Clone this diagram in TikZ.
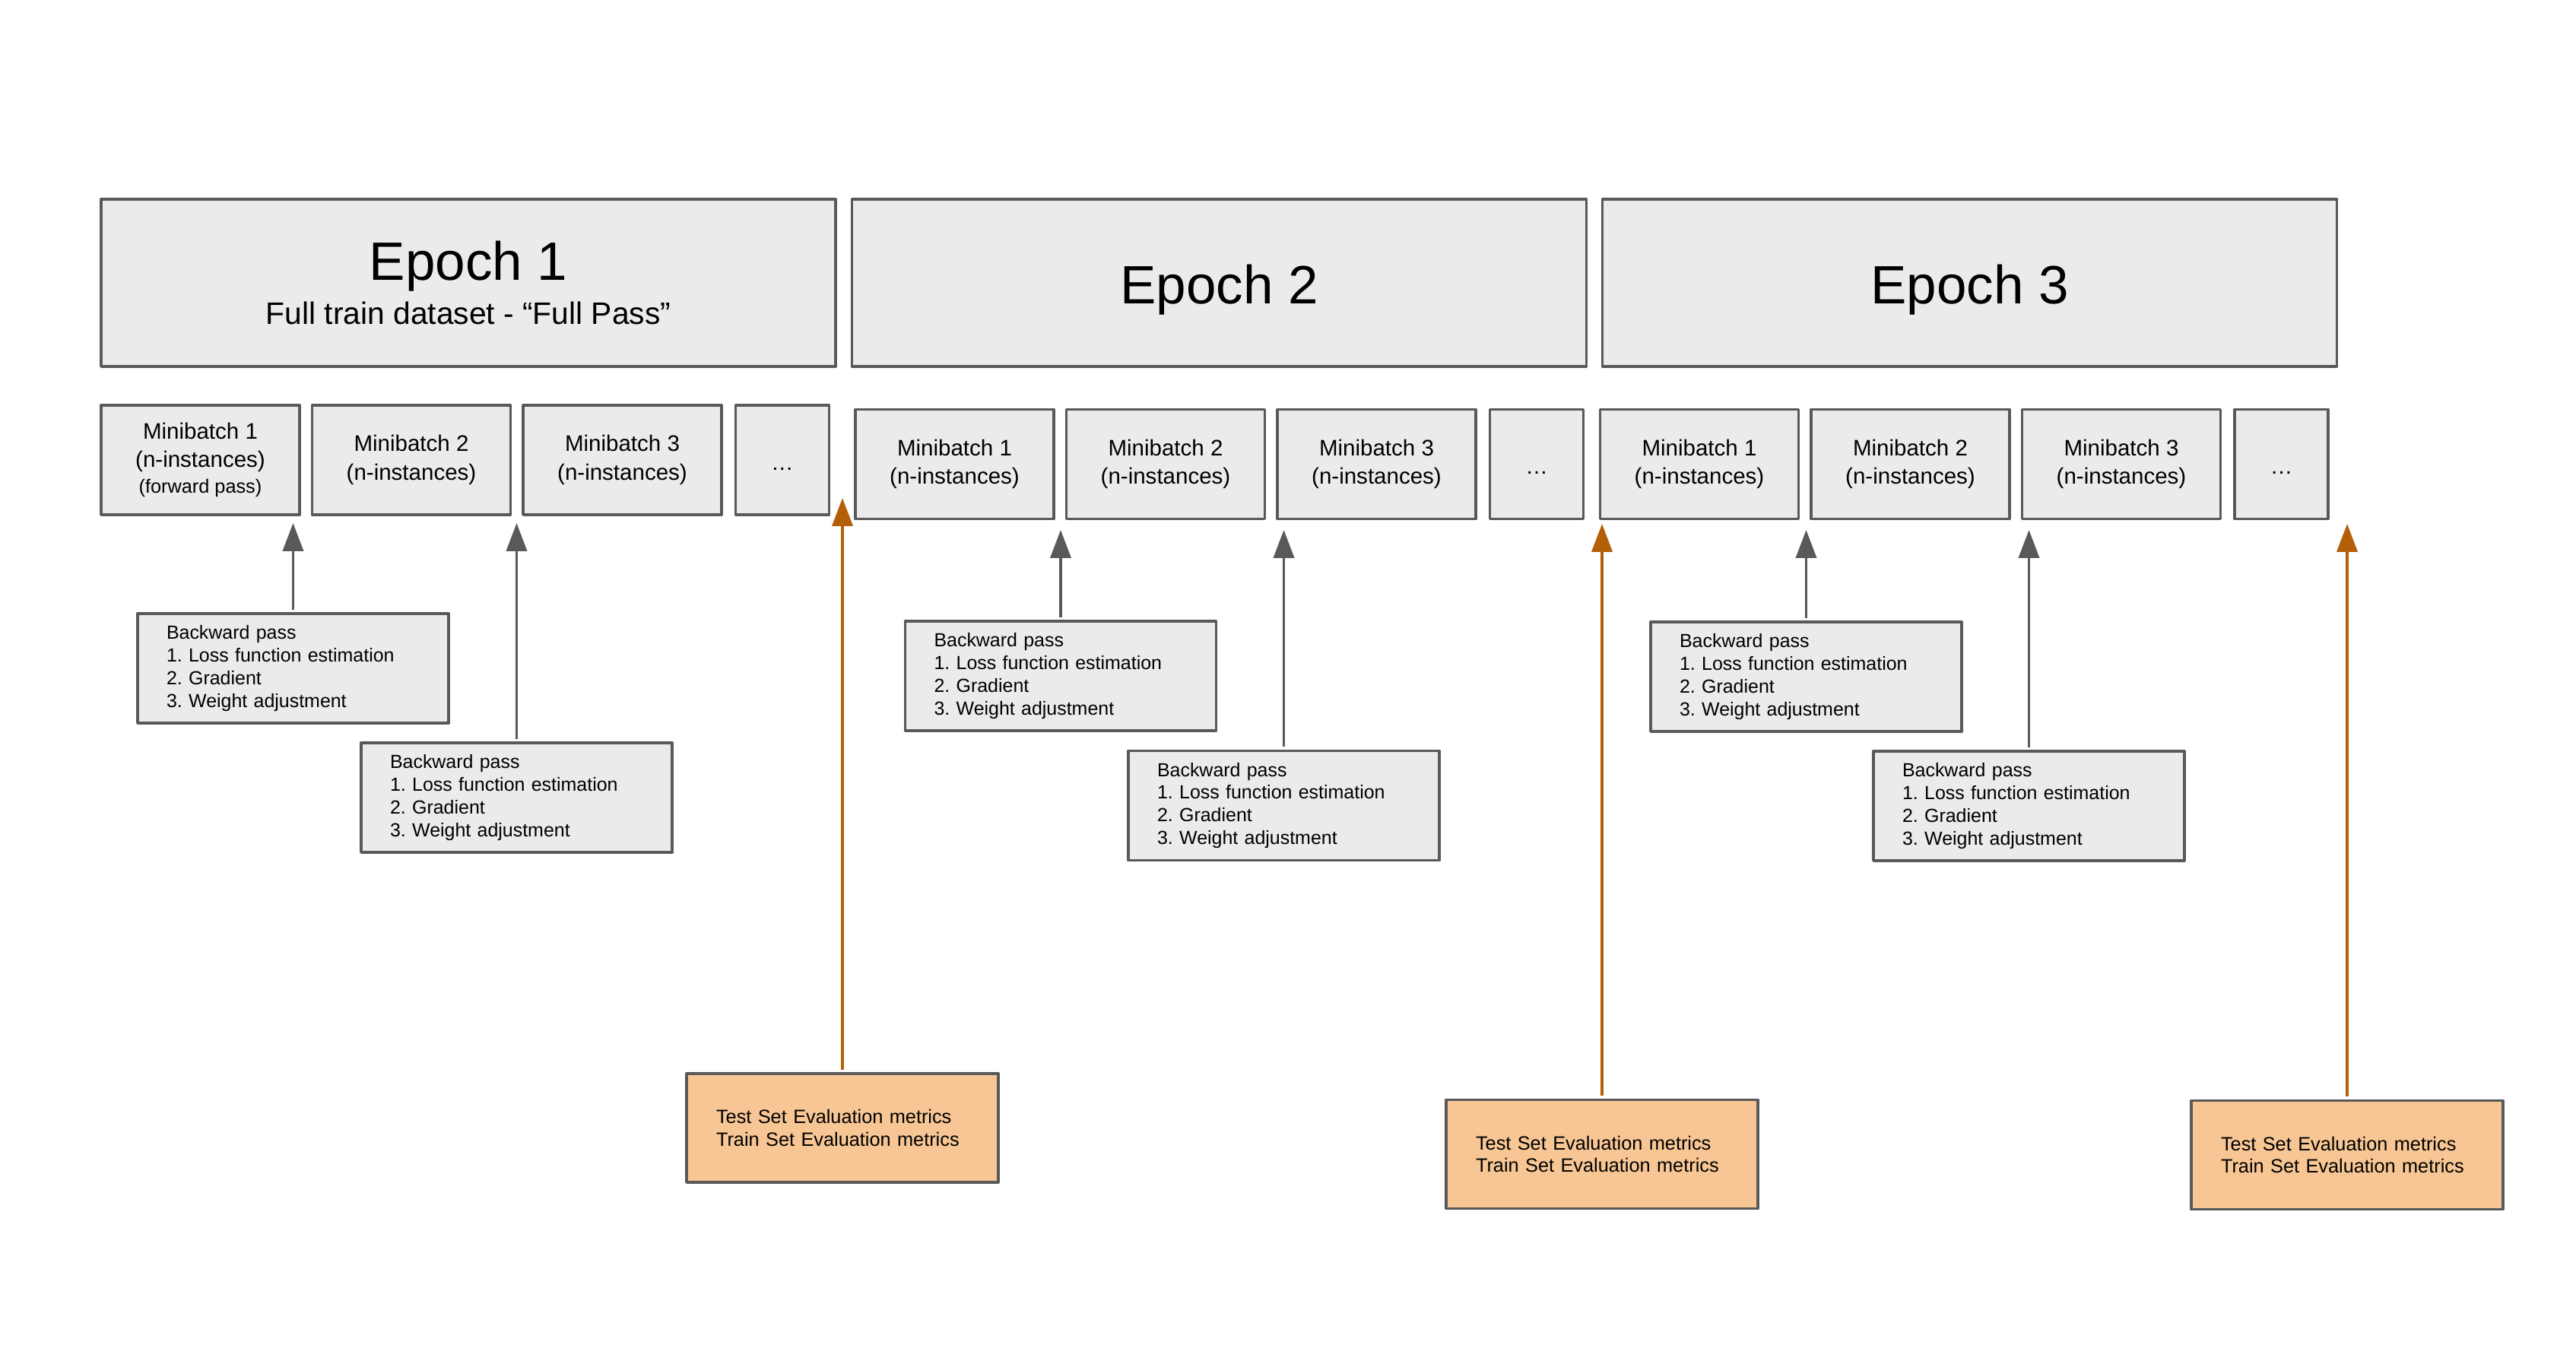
\documentclass[tikz,border=0pt]{standalone}
\usepackage{fontspec}
\setmainfont{Liberation Sans}
\usetikzlibrary{arrows.meta}
\frenchspacing
\begin{document}
\begin{tikzpicture}[line join=round, >={Triangle[length=0.37cm,width=0.27cm]}]
	\tikzset{
		box/.style={draw=black!65, fill=black!8, line width=1.1pt, inner sep=0pt, align=center},
		epochbox/.style={box, minimum width=9.66cm, minimum height=2.2cm, font=\fontsize{20.2}{24}\selectfont},
		epochtext/.style={text height=20.1pt, text depth=4.3pt},
		batchbox/.style={box, minimum width=2.61cm, minimum height=1.44cm, font=\fontsize{8.4}{10.7}\selectfont},
		dotsbox/.style={batchbox, minimum width=1.23cm, text height=7.6pt, text depth=0pt},
		backbox/.style={box, align=left, text width=3.33cm, inner xsep=0.38cm, minimum height=1.44cm, font=\fontsize{7.1}{8.5}\selectfont},
		evalbox/.style={backbox, fill=orange!40!white!97!black, text width=3.32cm, inner xsep=0.39cm, minimum height=1.43cm, font=\fontsize{7.2}{8.5}\selectfont},
		backarrow/.style={->, draw=black!65, line width=1.1pt, shorten <=1pt},
		evalarrow/.style={backarrow, draw=orange!70!black!88!brown}
	}
	\useasboundingbox (0,0) rectangle (33.88,17.90);
	%Epoch
	\node[epochbox, font=\fontsize{11.6}{16.4}\selectfont] (ep1) at (6.16,14.18) {{\fontsize{20.2}{24}\selectfont Epoch 1}\\Full train dataset - “Full Pass”};
	\node[epochbox, epochtext] (ep2) at (16.035,14.18) {Epoch 2};
	\node[epochbox, epochtext] (ep3) at (25.905,14.18) {Epoch 3};
	%Minibatch
	\foreach \e/\x/\y in {1/2.635/11.85,2/12.555/11.795,3/22.35/11.795}{
		\ifnum\e=1
		\node[batchbox] (mb\e-1) at (\x,\y) {Minibatch 1\\(n-instances)\\[-1pt]{\fontsize{7.2}{9}\selectfont (forward pass)}};
		\else
		\node[batchbox] (mb\e-1) at (\x,\y) {Minibatch 1\\(n-instances)};
		\fi
		\node[batchbox] (mb\e-2) at (\x+2.775,\y) {Minibatch 2\\(n-instances)};
		\node[batchbox] (mb\e-3) at (\x+5.55,\y) {Minibatch 3\\(n-instances)};
		\node[dotsbox] (mb\e-4) at (\x+7.655,\y) {…};
	}
	%Backward pass
	\foreach \e/\xa/\ya/\xb/\yb/\ty in {1/3.855/9.11/6.795/7.41/11.02,2/13.95/9.01/16.885/7.305/10.93,3/23.755/9.00/26.685/7.30/10.93}{
		\node[backbox] (bp\e-1) at (\xa,\ya) {Backward pass\\1. Loss function estimation\\2. Gradient\\3. Weight adjustment};
		\node[backbox] (bp\e-2) at (\xb,\yb) {Backward pass\\1. Loss function estimation\\2. Gradient\\3. Weight adjustment};
		\coordinate (tb\e-1) at (\xa,\ty);
		\coordinate (tb\e-2) at (\xb,\ty);
		\draw[backarrow] (bp\e-1) -- (tb\e-1);
		\draw[backarrow] (bp\e-2) -- (tb\e-2);
	}
	%Evaluation
	\foreach \e/\x/\y/\ty in {1/11.08/3.065/11.35,2/21.07/2.72/11.01,3/30.87/2.71/11.01}{
		\node[evalbox] (ev\e) at (\x,\y) {Test Set Evaluation metrics\\Train Set Evaluation metrics};
		\coordinate (te\e) at (\x,\ty);
		\draw[evalarrow] (ev\e) -- (te\e);
	}
\end{tikzpicture}
\end{document}
